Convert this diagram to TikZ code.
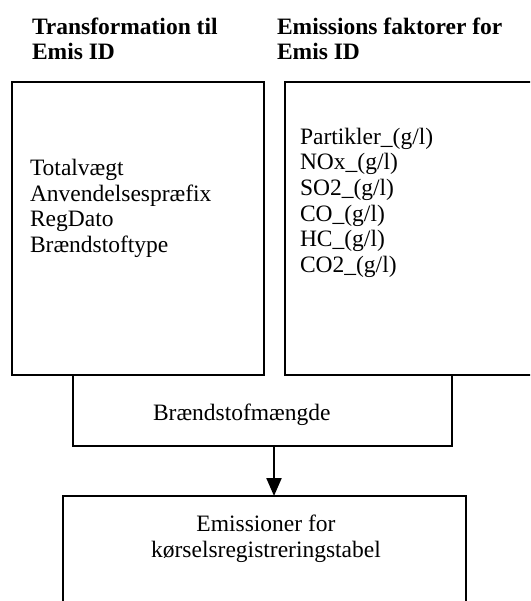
\documentclass[tikz,border=0pt]{standalone}
\usepackage{fontspec}
\setmainfont{Liberation Serif}[
  BoldFont = Liberation Serif Bold,
  ItalicFont = Liberation Serif Italic
]
\usetikzlibrary{arrows.meta}
\usetikzlibrary{positioning}

\begin{document}
\begin{tikzpicture}[
      x = 1pt, y = -1pt,
      >={Triangle[length=18pt, width=15pt]},
      every node/.style = {
        inner sep = 0pt, outer sep = 0pt,
        font = \fontsize{23.5}{25.5}\selectfont
      },
      frame/.style = { draw = black, line width = 2.5pt },
      heading/.style = {
        align = left, anchor = base west,
        font = \fontsize{23.5}{25.5}\selectfont\bfseries
      },
      fields/.style = { align = left, anchor = base west },
    ]

    \useasboundingbox (0,0) rectangle (530,601);
    \clip (0,0) rectangle (530,601);

    % headings over the two tables
    \node[heading] (transhead) at (32,60) {Transformation til\\Emis ID};
    \node[heading] (emishead) at (277,60) {Emissions faktorer for\\Emis ID};

    % the two tables
    \node[frame, minimum width = 252pt, minimum height = 293pt] (transbox) at (138,228.5) {};
    \node[frame, minimum width = 300pt, minimum height = 293pt] (emisbox) at (435,228.5) {};

    \node[fields] (transfields) at (30,252) {Totalvægt\\Anvendelsespræfix\\RegDato\\Brændstoftype};
    \node[fields] (emisfields) at (300,272) {Partikler\_(g/l)\\NOx\_(g/l)\\SO2\_(g/l)\\CO\_(g/l)\\HC\_(g/l)\\CO2\_(g/l)};

    % fuel amount, open at the top
    \node[minimum width = 379pt, minimum height = 71pt] (fuelbox) at (262.5,410.5) {};
    \draw[frame] (fuelbox.north west) -- (fuelbox.south west) -- (fuelbox.south east) -- (fuelbox.north east);
    \node[anchor = base west] (fuel) at (153,420) {Brændstofmængde};

    % result table
    \node[frame, minimum width = 403pt, minimum height = 150pt] (tablebox) at (264.5,571) {};
    \node[align = center, anchor = base] (table) at (266,557) {Emissioner for\\kørselsregistreringstabel};

    \draw[->, line width = 2.2pt] ([xshift = 11.5pt]fuelbox.south) -- ([xshift = 11.5pt]fuelbox.south |- tablebox.north);
  \end{tikzpicture}
\end{document}
